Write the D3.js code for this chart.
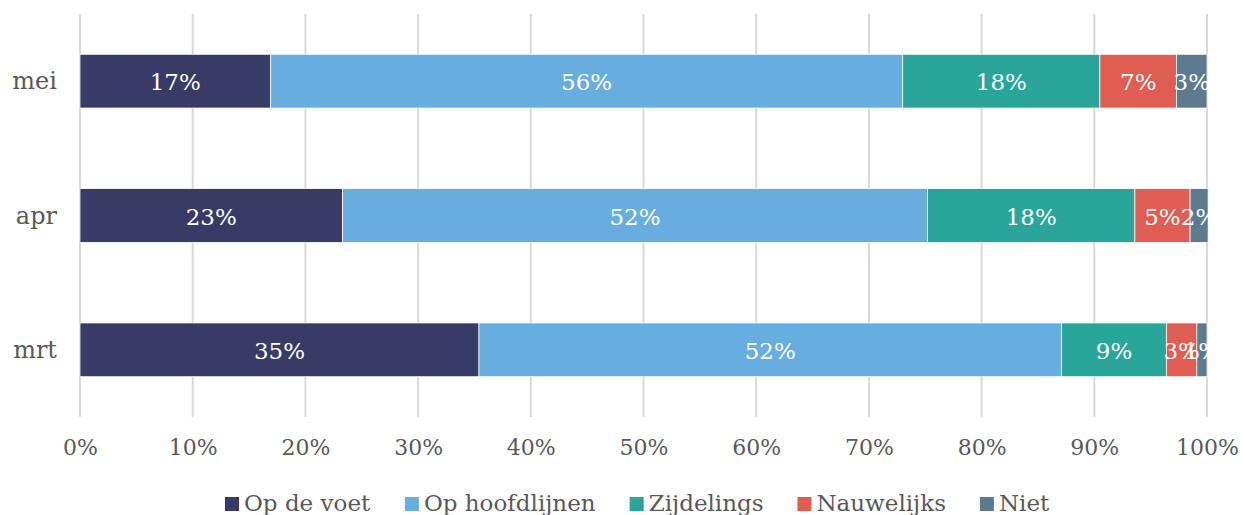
<!DOCTYPE html>
<html><head><meta charset="utf-8">
<script src="https://cdn.jsdelivr.net/npm/d3@7"></script>
<style>body{margin:0;background:#fff}svg{display:block}text{font-family:"DejaVu Serif",serif}</style>
</head><body>
<svg id="c" width="1243" height="515"></svg>
<script>
const categories = ["mei", "apr", "mrt"];
const seriesNames = ["Op de voet", "Op hoofdlijnen", "Zijdelings", "Nauwelijks", "Niet"];
const opDeVoet     = [16.9, 23.3, 35.4];
const opHoofdlijnen= [56.1, 51.9, 51.7];
const zijdelings   = [17.5, 18.4, 9.3];
const nauwelijks   = [6.8, 4.9, 2.7];
const niet         = [2.7, 1.6, 0.9];
const tickValues = [0,10,20,30,40,50,60,70,80,90,100];
const colors = ["#373B66", "#68ADE0", "#2AA59A", "#DF5D52", "#5E7A8E"];

const seriesVals = [opDeVoet, opHoofdlijnen, zijdelings, nauwelijks, niet];
const rows = categories.map((c,i)=>{const o={cat:c}; seriesNames.forEach((s,j)=>o[s]=seriesVals[j][i]); return o;});
const stack = d3.stack().keys(seriesNames)(rows);

const svg = d3.select("#c");
const m = {l:80, r:36, t:14, b:98};
const W = 1243, H = 515;
const x = d3.scaleLinear().domain([0,100]).range([m.l, W-m.r]);
const y = d3.scaleBand().domain(categories).range([m.t, H-m.b]).paddingInner(0.6).paddingOuter(0.3);
const grey = "#595959";

// gridlines
svg.append("g").selectAll("line").data(tickValues).join("line")
  .attr("x1",d=>x(d)).attr("x2",d=>x(d)).attr("y1",m.t).attr("y2",H-m.b)
  .attr("stroke","#D9D9D9").attr("stroke-width",2);

// bars
const g = svg.append("g");
stack.forEach((s,j)=>{
  g.append("g").selectAll("rect").data(s).join("rect")
    .attr("x",d=>x(d[0])).attr("width",d=>x(d[1])-x(d[0]))
    .attr("y",d=>y(d.data.cat)).attr("height",y.bandwidth())
    .attr("fill",colors[j]).attr("stroke","#fff").attr("stroke-width",0.75);
});
stack.forEach((s,j)=>{
  g.append("g").selectAll("text").data(s).join("text")
    .attr("x",d=>(x(d[0])+x(d[1]))/2).attr("y",d=>y(d.data.cat)+y.bandwidth()/2+1)
    .attr("text-anchor","middle").attr("dominant-baseline","central")
    .attr("fill","#fff").attr("font-size",23)
    .text(d=>Math.round(d[1]-d[0])+"%");
});

// y axis labels
svg.append("g").selectAll("text").data(categories).join("text")
  .attr("x",m.l-23).attr("y",d=>y(d)+y.bandwidth()/2)
  .attr("text-anchor","end").attr("dominant-baseline","central")
  .attr("fill",grey).attr("font-size",24).text(d=>d);

// x axis
const xa = svg.append("g").attr("transform",`translate(0,${H-m.b})`)
  .call(d3.axisBottom(x).tickValues(tickValues).tickFormat(d=>d+"%").tickSize(0).tickPadding(22));
xa.select(".domain").remove();
xa.selectAll("text").attr("fill",grey).attr("font-size",22).attr("font-family","DejaVu Serif");

// legend
const lg = svg.append("g");
const items = lg.selectAll("g").data(seriesNames).join("g");
items.append("rect").attr("width",14).attr("height",14).attr("y",-14).attr("fill",(d,i)=>colors[i]);
items.append("text").attr("x",19).attr("y",0).attr("fill",grey).attr("font-size",23).text(d=>d);
const widths = [];
items.each(function(){ widths.push(this.getBBox().width); });
const legendSpan = 825;
const gap = (legendSpan - d3.sum(widths)) / (widths.length - 1);
let off = 0;
items.each(function(d,i){ d3.select(this).attr("transform",`translate(${off},0)`); off += widths[i] + gap; });
lg.attr("transform",`translate(${637.5 - legendSpan/2},${H-4})`);
</script>
</body></html>
